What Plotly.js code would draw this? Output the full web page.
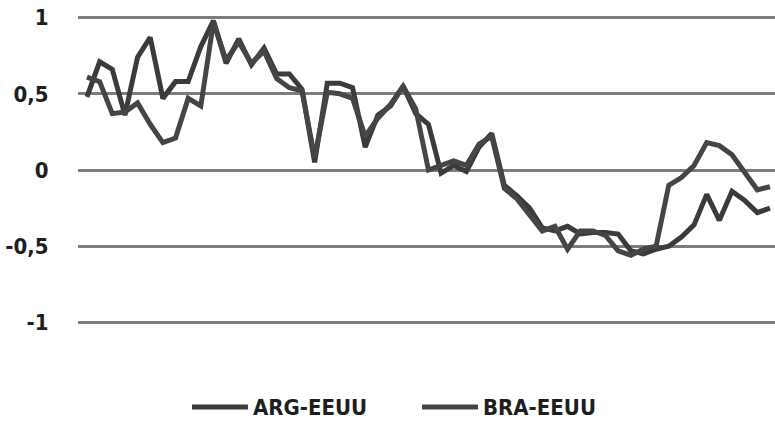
<!DOCTYPE html>
<html>
<head>
<meta charset="utf-8">
<script src="https://cdn.plot.ly/plotly-3.0.1.min.js"></script>
<style>html,body{margin:0;padding:0;background:#fff;}#chart{width:775px;height:442px;}</style>
</head>
<body>
<div id="chart"></div>
<script>
// Period index (unlabelled x axis)
const periods = Array.from({length: 55}, (_, i) => i);

const seriesNames = ["ARG-EEUU", "BRA-EEUU"];

const argEEUU = [0.48, 0.71, 0.66, 0.36, 0.74, 0.87, 0.47, 0.58, 0.58, 0.81,
                 0.98, 0.70, 0.86, 0.69, 0.80, 0.63, 0.63, 0.53, 0.05, 0.57,
                 0.57, 0.54, 0.15, 0.36, 0.42, 0.55, 0.37, 0.30, -0.02, 0.03,
                 -0.01, 0.15, 0.24, -0.10, -0.17, -0.25, -0.38, -0.40, -0.37, -0.42,
                 -0.41, -0.41, -0.42, -0.53, -0.55, -0.52, -0.50, -0.44, -0.36, -0.16,
                 -0.33, -0.14, -0.20, -0.28, -0.25];

const braEEUU = [0.61, 0.58, 0.37, 0.38, 0.44, 0.30, 0.18, 0.21, 0.47, 0.42,
                 0.97, 0.72, 0.84, 0.70, 0.78, 0.60, 0.54, 0.52, 0.08, 0.51,
                 0.50, 0.47, 0.22, 0.34, 0.43, 0.55, 0.40, 0.00, 0.03, 0.06,
                 0.03, 0.17, 0.22, -0.12, -0.19, -0.30, -0.40, -0.37, -0.52, -0.40,
                 -0.40, -0.43, -0.53, -0.56, -0.52, -0.50, -0.10, -0.05, 0.03, 0.18,
                 0.16, 0.10, -0.02, -0.13, -0.11];

const yTickVals = [-1, -0.5, 0, 0.5, 1];
const yTickText = ["-1", "-0,5", "0", "0,5", "1"];

const fontFam = "'DejaVu Sans Condensed', 'DejaVu Sans', sans-serif";

const traces = [
  {x: periods, y: argEEUU, name: seriesNames[0], type: "scatter", mode: "lines",
   line: {color: "#3b3b3b", width: 5}},
  {x: periods, y: braEEUU, name: seriesNames[1], type: "scatter", mode: "lines",
   line: {color: "#454545", width: 5}}
];

const layout = {
  width: 775, height: 442,
  margin: {l: 78, r: 0, t: 10, b: 112},
  paper_bgcolor: "#ffffff", plot_bgcolor: "#ffffff",
  showlegend: true,
  xaxis: {range: [-0.71, 54.4], showgrid: false, zeroline: false, showline: false,
          showticklabels: false, ticks: ""},
  yaxis: {range: [-1.05, 1.05], tickvals: yTickVals, ticktext: yTickText,
          showgrid: true, gridcolor: "#7d7d7d", gridwidth: 3,
          zeroline: true, zerolinecolor: "#7d7d7d", zerolinewidth: 3,
          showline: false, ticks: "outside", ticklen: 24, tickcolor: "rgba(0,0,0,0)",
          tickfont: {family: fontFam, size: 22, color: "#1e1e1e", weight: "bold"}},
  legend: {orientation: "h", xref: "container", yref: "container",
           x: 0.538, xanchor: "center", y: 0.079, yanchor: "middle",
           entrywidth: 159, itemwidth: 56,
           font: {family: fontFam, size: 22, color: "#1e1e1e", weight: "bold"}}
};

Plotly.newPlot("chart", traces, layout, {displayModeBar: false, staticPlot: true});
</script>
</body>
</html>
